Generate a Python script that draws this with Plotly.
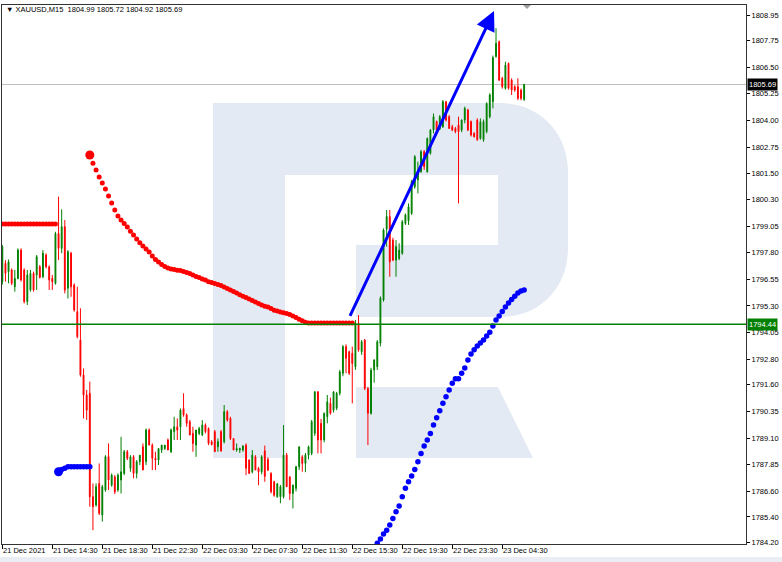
import plotly.graph_objects as go

# ---------------- data ----------------
symbol = "XAUUSD,M15"

open_ = [1796.44,1797.30,1796.91,1796.99,1796.20,1796.59,1797.92,1796.99,1795.50,1796.05,
         1796.83,1796.75,1797.14,1796.67,1797.69,1797.14,1796.59,1796.36,1798.70,1798.00,
         1799.02,1796.13,1797.77,1796.28,1795.03,1793.70,1792.06,1791.12,1791.20,1786.35,
         1785.96,1786.97,1785.49,1786.66,1788.23,1786.89,1787.28,1786.66,1787.13,1787.44,
         1788.46,1787.68,1788.22,1787.44,1787.99,1788.69,1787.99,1789.48,1788.77,1788.15,
         1788.07,1788.54,1788.61,1789.01,1788.46,1789.40,1789.63,1789.63,1790.49,1790.18,
         1789.87,1789.32,1788.77,1789.32,1789.24,1789.71,1789.55,1788.93,1789.40,1788.69,
         1789.40,1788.93,1790.34,1790.02,1789.08,1788.54,1788.54,1788.54,1788.77,1788.07,
         1787.52,1788.22,1787.68,1787.52,1788.50,1788.10,1787.44,1787.05,1786.35,1786.35,
         1786.35,1788.30,1787.28,1786.50,1786.74,1787.75,1788.22,1787.91,1788.30,1788.38,
         1789.32,1791.27,1789.79,1789.01,1790.10,1790.73,1790.41,1790.50,1791.20,1792.14,
         1793.39,1793.15,1793.08,1792.45,1794.48,1793.15,1793.70,1791.43,1790.26,1792.29,
         1792.45,1793.55,1795.58,1798.90,1799.49,1798.39,1797.45,1797.53,1797.77,1799.17,
         1799.30,1799.64,1800.89,1801.21,1801.60,1802.54,1801.60,1802.46,1803.55,1803.95,
         1803.60,1803.71,1804.88,1804.18,1803.71,1803.63,1803.79,1803.55,1804.02,1804.49,
         1803.95,1803.40,1804.02,1803.16,1803.10,1803.48,1804.18,1804.88,1807.00,1807.70,
         1805.98,1805.51,1806.68,1805.90,1805.59,1805.59,1805.43,1804.99]
high = [1798.16,1797.45,1797.48,1797.06,1796.99,1798.00,1798.00,1797.06,1796.99,1796.99,
        1796.91,1797.69,1797.22,1797.92,1797.77,1797.20,1796.75,1798.78,1800.43,1799.83,
        1799.33,1797.92,1797.84,1796.36,1796.20,1795.19,1792.37,1791.36,1791.75,1786.97,
        1786.97,1787.91,1786.90,1788.30,1788.85,1787.44,1787.36,1787.44,1789.16,1788.54,
        1788.54,1788.30,1788.30,1788.07,1788.30,1788.85,1789.55,1789.55,1788.85,1788.46,
        1788.61,1788.77,1788.77,1789.08,1789.55,1790.10,1790.02,1790.49,1791.20,1790.26,
        1789.95,1789.63,1789.48,1789.63,1789.94,1789.79,1789.60,1789.00,1789.48,1789.08,
        1789.48,1790.65,1790.41,1790.10,1789.10,1788.85,1788.65,1788.77,1788.85,1788.10,
        1788.54,1788.30,1787.75,1788.30,1788.75,1788.20,1787.50,1787.10,1787.00,1786.90,
        1789.71,1788.40,1787.30,1786.90,1787.80,1788.70,1788.30,1788.40,1788.75,1789.95,
        1791.30,1791.30,1790.00,1790.30,1791.12,1791.00,1791.30,1791.27,1792.30,1793.47,
        1793.50,1793.20,1793.39,1794.64,1794.87,1793.70,1793.75,1791.50,1792.40,1792.80,
        1793.70,1795.75,1798.94,1799.80,1799.80,1798.50,1798.39,1798.24,1799.33,1799.64,
        1800.11,1801.21,1802.38,1802.07,1802.62,1802.62,1803.20,1803.60,1804.33,1804.00,
        1804.26,1804.96,1804.92,1804.25,1803.80,1803.70,1804.18,1804.05,1804.65,1804.55,
        1804.00,1803.45,1804.10,1804.10,1804.05,1804.85,1805.28,1807.05,1808.33,1807.75,
        1806.05,1806.76,1806.72,1805.98,1805.65,1805.98,1805.50,1805.72]
low = [1796.30,1796.44,1796.36,1796.28,1795.97,1796.55,1796.44,1795.42,1795.34,1795.97,
       1795.97,1796.05,1796.59,1796.60,1797.06,1796.05,1796.05,1796.30,1797.45,1797.77,
       1795.89,1795.65,1795.73,1795.03,1793.78,1791.98,1790.02,1789.95,1785.88,1784.78,
       1785.88,1785.49,1785.18,1786.58,1786.66,1786.82,1786.47,1786.58,1786.50,1787.36,
       1788.07,1787.52,1787.21,1787.21,1787.83,1787.60,1787.83,1788.77,1787.60,1787.60,
       1787.83,1788.40,1788.54,1788.54,1788.40,1789.01,1789.01,1789.01,1790.10,1789.63,
       1789.24,1788.46,1788.22,1789.24,1789.20,1789.32,1788.77,1788.75,1788.46,1788.46,
       1788.46,1788.85,1789.87,1789.01,1788.54,1788.46,1788.40,1788.46,1787.36,1787.44,
       1787.44,1787.60,1786.89,1787.40,1787.05,1787.55,1786.50,1786.35,1786.30,1786.04,
       1786.27,1786.80,1786.19,1785.80,1786.60,1787.60,1787.52,1787.50,1788.10,1788.30,
       1789.20,1788.38,1788.38,1788.90,1789.79,1790.20,1790.30,1790.41,1791.10,1792.00,
       1792.14,1792.06,1790.73,1792.30,1793.15,1793.00,1791.35,1788.77,1790.20,1791.70,
       1792.30,1793.40,1795.50,1798.08,1796.67,1797.40,1796.67,1797.45,1797.70,1799.10,
       1799.10,1799.57,1800.80,1800.58,1801.55,1801.68,1801.55,1802.40,1803.40,1803.45,
       1803.55,1803.65,1803.95,1803.60,1803.50,1803.40,1800.11,1803.45,1803.87,1803.50,
       1803.25,1803.20,1803.05,1803.10,1803.00,1803.40,1804.10,1804.57,1806.95,1805.85,
       1805.50,1805.45,1805.45,1805.20,1805.35,1804.96,1804.95,1804.92]
close = [1798.08,1796.83,1797.37,1796.36,1796.59,1797.92,1796.52,1795.50,1796.75,1796.83,
         1796.05,1797.61,1796.64,1797.77,1797.14,1796.52,1796.44,1798.70,1798.00,1799.02,
         1796.05,1797.84,1796.20,1795.11,1793.86,1792.06,1791.12,1790.41,1786.35,1785.88,
         1786.82,1785.57,1786.82,1788.23,1787.13,1787.36,1786.58,1787.36,1787.52,1788.46,
         1788.15,1788.22,1787.44,1787.99,1788.30,1787.60,1789.48,1788.77,1788.15,1788.07,
         1788.61,1788.77,1788.77,1788.54,1789.48,1789.63,1789.48,1790.41,1790.18,1789.79,
         1789.24,1788.85,1789.48,1789.55,1789.71,1789.40,1788.85,1788.80,1788.46,1788.93,
         1788.50,1790.34,1789.95,1789.08,1788.54,1788.61,1788.61,1788.72,1787.68,1787.44,
         1788.30,1787.60,1787.52,1788.22,1787.30,1787.60,1786.58,1786.42,1786.95,1786.82,
         1788.30,1786.82,1786.50,1786.90,1787.75,1788.69,1787.91,1788.30,1788.69,1789.87,
         1791.27,1789.01,1789.01,1790.26,1790.80,1790.26,1791.27,1791.20,1792.21,1793.39,
         1792.84,1792.14,1792.60,1794.48,1793.23,1793.62,1791.43,1790.26,1792.29,1792.76,
         1793.62,1795.66,1798.86,1799.50,1797.37,1797.45,1798.08,1797.92,1799.25,1799.57,
         1799.95,1801.13,1802.30,1801.52,1802.54,1801.84,1803.16,1803.55,1804.18,1803.55,
         1804.18,1804.88,1804.02,1803.63,1803.55,1803.48,1803.48,1804.02,1804.57,1803.55,
         1803.32,1803.24,1803.10,1803.94,1803.95,1804.80,1805.20,1806.95,1807.62,1805.90,
         1805.59,1806.60,1805.51,1805.43,1805.43,1805.04,1805.04,1805.69]
bar_index = list(range(len(close)))

# red dotted indicator
red_flat_start = 0
red_flat_val = [1799.15,1799.15,1799.15,1799.15,1799.15,1799.15,1799.15,1799.15,1799.15,
                1799.15,1799.15,1799.15,1799.15,1799.15,1799.15,1799.15,1799.15,1799.15]
red_curve_start = 28
red_curve_val = [1802.38,1802.00,1801.68,1801.35,1801.07,1800.79,1800.46,1800.13,1799.80,1799.52,
                 1799.33,1799.17,1799.00,1798.81,1798.63,1798.44,1798.27,1798.11,1797.97,1797.83,
                 1797.64,1797.48,1797.36,1797.24,1797.15,1797.08,1797.03,1797.01,1796.98,1796.96,
                 1796.91,1796.87,1796.82,1796.75,
                 1796.68,1796.63,1796.56,1796.52,1796.44,1796.40,1796.35,1796.30,1796.26,1796.19,
                 1796.12,1796.05,1795.98,1795.91,1795.83,1795.76,1795.69,1795.62,1795.55,1795.48,
                 1795.41,1795.34,1795.29,1795.25,1795.18,1795.10,1795.06,1795.02,1794.98,1794.94,
                 1794.90,1794.83,1794.76,1794.68,1794.61,1794.54,
                 1794.50,1794.50,1794.50,1794.50,1794.50,1794.50,1794.50,1794.50,1794.50,1794.50,
                 1794.50,1794.50,1794.50,1794.50,1794.50]
# blue dotted indicator
blue_flat_start = 18
blue_flat_val = [1787.52,1787.63,1787.69,1787.76,1787.76,1787.76,1787.76,1787.76,1787.76,1787.76,1787.76]
blue_curve_start = 120
blue_curve_val = [1784.16,1784.36,1784.60,1784.78,1785.02,1785.33,1785.64,1785.91,1786.35,1786.74,
                  1787.05,1787.32,1787.63,1787.99,1788.38,1788.73,1789.01,1789.32,1789.71,1790.05,
                  1790.38,1790.73,1791.04,1791.35,1791.67,1791.88,1791.88,1792.14,1792.39,1792.76,
                  1793.04,1793.25,1793.42,1793.56,1793.70,1793.89,1794.07,1794.36,1794.64,1794.83,
                  1795.04,1795.25,1795.44,1795.60,1795.76,1795.91,1796.00,1796.05]

support_level = 1794.44
bid_price = 1805.69
arrow_from = (111.05, 1794.76)
arrow_to = (157.35, 1809.14)

price_ticks = [1808.95,1807.75,1806.50,1805.25,1804.00,1802.75,1801.50,1800.30,1799.05,1797.80,
               1796.55,1795.30,1794.05,1792.80,1791.60,1790.35,1789.10,1787.85,1786.60,1785.40,1784.20]
time_tick_idx = [0,16,32,48,64,80,96,112,128,144,160]
time_tick_labels = ["21 Dec 2021","21 Dec 14:30","21 Dec 18:30","21 Dec 22:30","22 Dec 03:30",
                    "22 Dec 07:30","22 Dec 11:30","22 Dec 15:30","22 Dec 19:30","22 Dec 23:30",
                    "23 Dec 04:30"]

# ---------------- figure ----------------
W, H = 782, 562
ML, MR, MT, MB = 2, 36, 5, 18
PW, PH = W - ML - MR, H - MT - MB
FONT = "Liberation Sans, Arial, sans-serif"
GREEN = "#008000"
RED = "#ff0000"
BLUE = "#0000ff"

def px(x):
    return (x - ML) / PW

def py(y):
    return (MT + PH - y) / PH

high = [max(h, o, c) for h, o, c in zip(high, open_, close)]
low = [min(l, o, c) for l, o, c in zip(low, open_, close)]

fig = go.Figure()
fig.add_trace(go.Candlestick(
    x=bar_index, open=open_, high=high, low=low, close=close,
    increasing=dict(line=dict(color=GREEN, width=1), fillcolor=GREEN),
    decreasing=dict(line=dict(color=RED, width=1), fillcolor=RED),
    whiskerwidth=0, showlegend=False, hoverinfo="skip"))

def dots(start, vals, color, size):
    fig.add_trace(go.Scatter(x=list(range(start, start + len(vals))), y=vals, mode="markers",
                             marker=dict(color=color, size=size, line=dict(width=0)),
                             showlegend=False, hoverinfo="skip", cliponaxis=True))

dots(red_flat_start, red_flat_val, RED, 5)
dots(red_curve_start, red_curve_val, RED, 5)
dots(red_curve_start, red_curve_val[:1], RED, 9)
dots(blue_flat_start, blue_flat_val, BLUE, 5.5)
dots(blue_flat_start, blue_flat_val[:1], BLUE, 9)
dots(blue_curve_start, blue_curve_val, BLUE, 5.5)

shapes = []
WM = "rgb(228,234,243)"
# watermark "R"
stem = "M {},{} L {},{} L {},{} L {},{} Z".format(px(213), py(103), px(285), py(103), px(285), py(458), px(213), py(458))
bowl = ("M {},{} L {},{} C {},{} {},{} {},{} L {},{} C {},{} {},{} {},{} L {},{} L {},{} L {},{} L {},{} L {},{} Z").format(
    px(285), py(103), px(500), py(103),
    px(540), py(103), px(568), py(133), px(568), py(172),
    px(568), py(248),
    px(568), py(288), px(540), py(317), px(500), py(317),
    px(356), py(317), px(356), py(245), px(498), py(245), px(498), py(175), px(285), py(175))
leg = "M {},{} L {},{} L {},{} L {},{} Z".format(px(356), py(387), px(498), py(387), px(533), py(458), px(356), py(458))
for p in (stem, bowl, leg):
    shapes.append(dict(type="path", path=p, xref="paper", yref="paper", fillcolor=WM,
                       line=dict(width=0), layer="below"))

# bid line and support line
shapes.append(dict(type="line", xref="paper", x0=0, x1=1, yref="y", y0=bid_price, y1=bid_price,
                   line=dict(color="#c0c0c0", width=1), layer="below"))
shapes.append(dict(type="line", xref="paper", x0=0, x1=1, yref="y", y0=support_level, y1=support_level,
                   line=dict(color=GREEN, width=1.5), layer="above"))
# chart-shift marker
shapes.append(dict(type="path", xref="paper", yref="paper",
                   path="M {},{} L {},{} L {},{} Z".format(px(523), py(5), px(531), py(5), px(527), py(9)),
                   fillcolor="#a0a0a0", line=dict(width=0), layer="above"))
# bottom strip
shapes.append(dict(type="rect", xref="paper", yref="paper", x0=px(0), x1=px(W), y0=py(557), y1=py(H),
                   fillcolor="#eaeef4", line=dict(width=0), layer="below"))

annotations = []
# trend arrow
annotations.append(dict(x=arrow_to[0], y=arrow_to[1], ax=arrow_from[0], ay=arrow_from[1],
                        xref="x", yref="y", axref="x", ayref="y", text="", showarrow=True,
                        arrowhead=2, arrowsize=1.3, arrowwidth=3, arrowcolor=BLUE, standoff=0))
# time labels
for idx, lab in zip(time_tick_idx, time_tick_labels):
    annotations.append(dict(x=idx, y=py(551), xref="x", yref="paper", text=lab, showarrow=False,
                            xanchor="left", yanchor="middle", xshift=-1,
                            font=dict(family=FONT, size=7.5, color="#000000")))
# title
last = -1
title_txt = "\u25BC {}\u00a0\u00a0{:.2f} {:.2f} {:.2f} {:.2f}".format(
    symbol, open_[last], high[last], low[last], close[last])
annotations.append(dict(x=px(4), y=py(9), xref="paper", yref="paper", text=title_txt, showarrow=False,
                        xanchor="left", yanchor="middle", font=dict(family=FONT, size=7.5, color="#000000")))
# price tags
for val, bg in ((bid_price, "#000000"), (support_level, GREEN)):
    annotations.append(dict(x=1, y=val, xref="paper", yref="y", text="{:.2f}".format(val), showarrow=False,
                            xanchor="left", yanchor="middle", xshift=1, bgcolor=bg, borderpad=1,
                            font=dict(family=FONT, size=7.5, color="#ffffff")))

fig.update_layout(
    width=W, height=H, margin=dict(l=ML, r=MR, t=MT, b=MB, pad=0),
    paper_bgcolor="#ffffff", plot_bgcolor="#ffffff", boxgap=0.6,
    shapes=shapes, annotations=annotations, showlegend=False,
    xaxis=dict(range=[-0.1, 238.0], rangeslider=dict(visible=False), showgrid=False, zeroline=False,
               tickmode="array", tickvals=time_tick_idx, showticklabels=False, ticks="outside",
               ticklen=4, tickcolor="#000000", showline=True, linecolor="#333333", linewidth=1, mirror=True),
    yaxis=dict(range=[1784.13, 1809.42], side="right", showgrid=False, zeroline=False,
               tickmode="array", tickvals=price_ticks, ticktext=["{:.2f}".format(v) for v in price_ticks],
               ticks="outside", ticklen=3, tickcolor="#000000", showline=True, linecolor="#333333",
               linewidth=1, mirror=True, tickfont=dict(family=FONT, size=7.5, color="#000000")),
)

fig.write_html("out.html", config={"displayModeBar": False},
               post_script="document.body.style.margin='0';document.body.style.overflow='hidden';")
